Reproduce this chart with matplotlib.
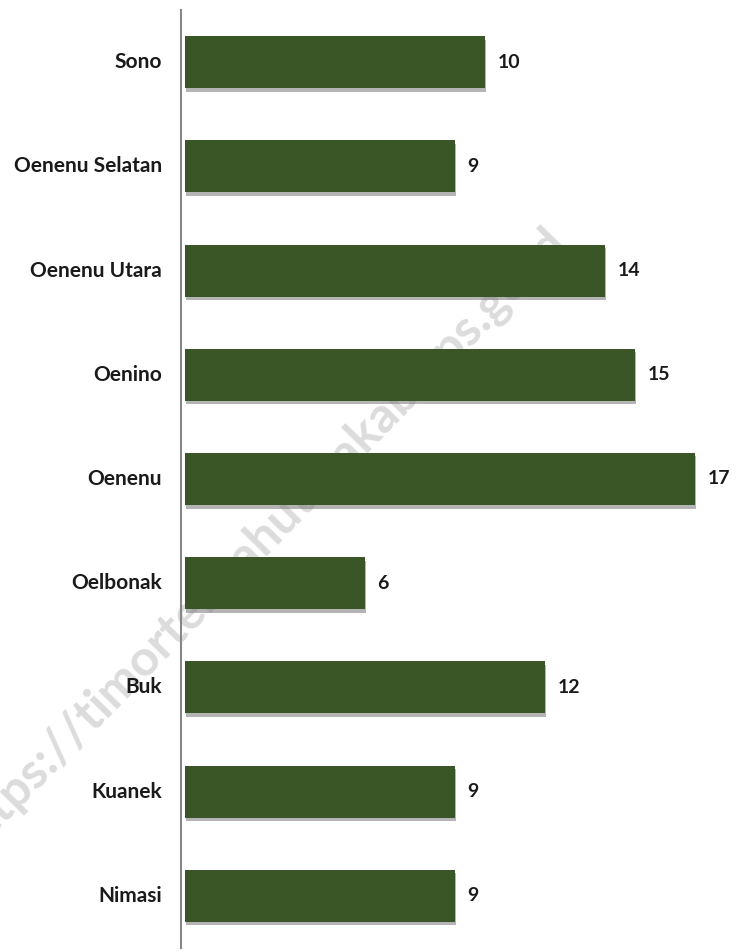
import matplotlib
matplotlib.use("Agg")
import matplotlib.pyplot as plt
import matplotlib.patheffects as pe
import matplotlib.transforms as mtransforms

# desa / kelurahan, top to bottom
villages = ["Sono", "Oenenu Selatan", "Oenenu Utara", "Oenino", "Oenenu",
            "Oelbonak", "Buk", "Kuanek", "Nimasi"]
counts = [10, 9, 14, 15, 17, 6, 12, 9, 9]

bar_color = "#3b5626"
font = "Lato"

fig = plt.figure(figsize=(7.36, 9.52), dpi=100)
ax = fig.add_axes([185 / 736, 4 / 952, 551 / 736, 938 / 952])
ax.set_zorder(2)  # keep labels above the watermark

# watermark behind the bars
fig.text(0.352, 0.432, "https://timortengahutarakab.bps.go.id", rotation=45.6,
         fontsize=36, fontweight="bold", family=font, color="#dcdcdc",
         ha="center", va="center", zorder=0)

ypos = list(range(len(villages)))
bars = ax.barh(ypos, counts, height=0.5, color=bar_color, zorder=3)
for b in bars:
    b.set_path_effects([pe.SimplePatchShadow(offset=(0.5, -2.5), shadow_rgbFace="#777777", alpha=0.55),
                        pe.Normal()])

for y, v in zip(ypos, counts):
    ax.text(v + 0.42, y, str(v), va="center", ha="left", fontsize=14,
            fontweight="bold", family=font, color="#1a1a1a")

# category labels drawn as text so the bold face sticks
trans = mtransforms.blended_transform_factory(ax.transAxes, ax.transData)
for y, name in zip(ypos, villages):
    ax.text(-23 / 551, y, name, transform=trans, ha="right", va="center",
            fontsize=15, fontweight="bold", family=font, color="#1a1a1a")

ax.set_xlim(0, 18.37)
ax.set_ylim(len(villages) - 0.5, -0.5)
ax.set_yticks([])
ax.set_xticks([])

for s in ["top", "right", "bottom"]:
    ax.spines[s].set_visible(False)
ax.spines["left"].set_color("#888888")
ax.spines["left"].set_linewidth(1.5)
ax.spines["left"].set_position(("outward", 3))
ax.patch.set_alpha(0)

fig.savefig("out.png", dpi=100)
